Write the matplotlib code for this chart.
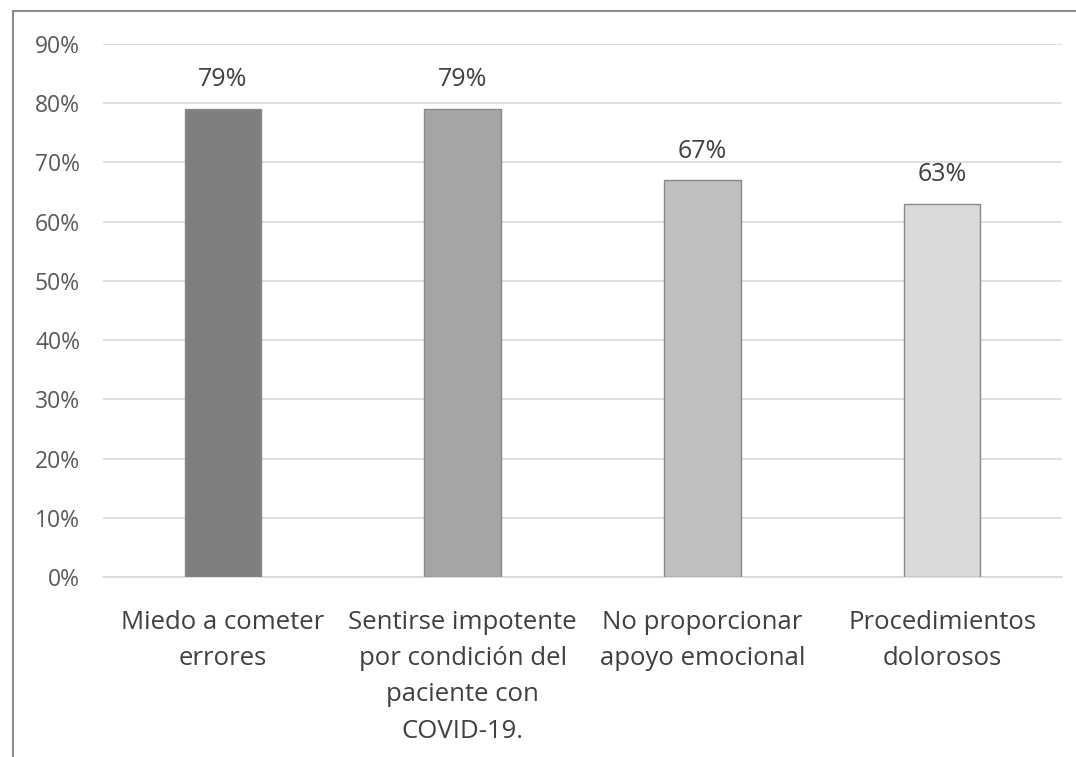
import matplotlib
matplotlib.use("Agg")
import matplotlib.pyplot as plt
from matplotlib.lines import Line2D
from matplotlib.ticker import MultipleLocator, FuncFormatter

categories = [
    "Miedo a cometer\nerrores",
    "Sentirse impotente\npor condición del\npaciente con\nCOVID-19.",
    "No proporcionar\napoyo emocional",
    "Procedimientos\ndolorosos",
]
values = [0.79, 0.79, 0.67, 0.63]
value_labels = ["79%", "79%", "67%", "63%"]
bar_colors = ["#7f7f7f", "#a5a5a5", "#bfbfbf", "#d9d9d9"]

plt.rcParams["font.family"] = ["Open Sans", "DejaVu Sans"]

fig = plt.figure(figsize=(10.76, 7.57), dpi=100)
ax = fig.add_axes([103 / 1076, 1 - 577 / 757, (1062 - 103) / 1076, (577 - 44) / 757])

x = list(range(len(categories)))
bars = ax.bar(x, values, width=0.32, color=bar_colors, edgecolor="#8a8a8a",
              linewidth=1.0, zorder=3)

for b, lab in zip(bars, value_labels):
    ax.annotate(lab, (b.get_x() + b.get_width() / 2, b.get_height()),
                xytext=(0, 21), textcoords="offset points", ha="center",
                va="center", fontsize=18, color="#404040")

ax.set_xlim(-0.5, len(categories) - 0.5)
ax.set_ylim(0, 0.9)
ax.yaxis.set_major_locator(MultipleLocator(0.1))
ax.yaxis.set_major_formatter(FuncFormatter(lambda v, p: f"{v * 100:.0f}%"))
ax.grid(axis="y", color="#d9d9d9", linewidth=1.2, zorder=0)
ax.set_axisbelow(True)

for s in ["top", "right", "left"]:
    ax.spines[s].set_visible(False)
ax.spines["bottom"].set_color("#d9d9d9")
ax.spines["bottom"].set_linewidth(1.2)

ax.set_xticks(x)
ax.set_xticklabels(categories, fontsize=18.5, color="#404040", linespacing=1.6)
ax.tick_params(axis="x", length=0, pad=23.5)
ax.tick_params(axis="y", length=0, pad=16.5, labelsize=16.5, labelcolor="#595959")

# outer frame lines (left and top)
fig.add_artist(Line2D([13 / 1076, 13 / 1076], [0, 1 - 11 / 757],
                      transform=fig.transFigure, color="#8c8c8c", linewidth=1.5))
fig.add_artist(Line2D([13 / 1076, 1], [1 - 11 / 757, 1 - 11 / 757],
                      transform=fig.transFigure, color="#8c8c8c", linewidth=1.5))

fig.savefig("out.png", dpi=100, facecolor="white")
